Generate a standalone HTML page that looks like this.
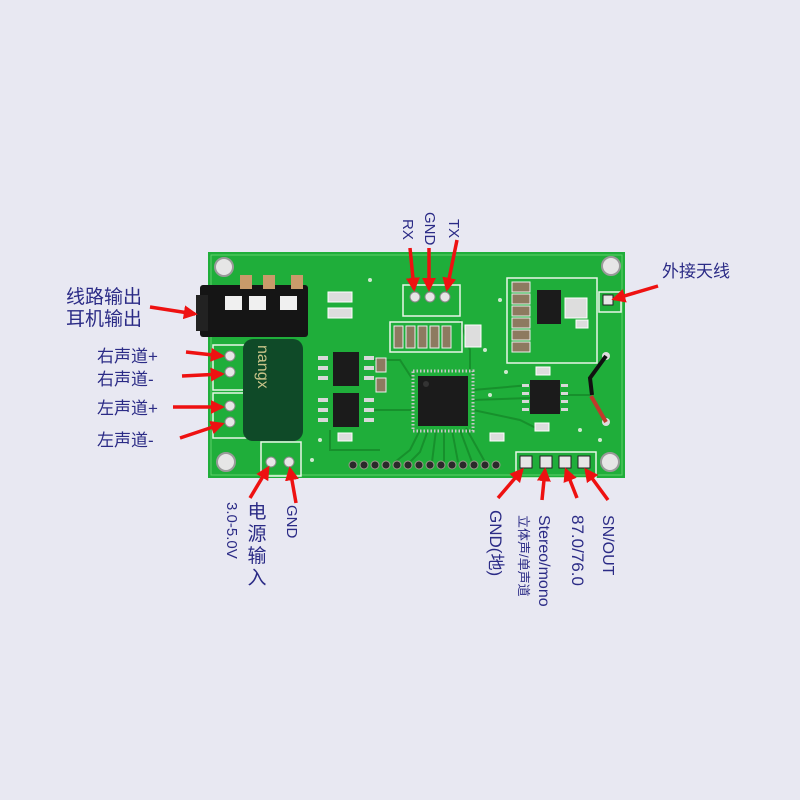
<!DOCTYPE html>
<html><head><meta charset="utf-8"><style>
html,body{margin:0;padding:0;background:#e8e8f2;}
svg{display:block}
text{font-family:"Liberation Sans","Noto Sans CJK SC",sans-serif;fill:#2b2b86;}
</style></head><body>
<svg width="800" height="800" viewBox="0 0 800 800" xmlns="http://www.w3.org/2000/svg">
<defs>
<marker id="ah" markerWidth="4" markerHeight="4" refX="3.2" refY="2" orient="auto" markerUnits="strokeWidth">
<path d="M0,0 L4,2 L0,4 z" fill="#ee1111"/></marker>
</defs>
<rect width="800" height="800" fill="#e8e8f2"/>
<!-- board -->
<rect x="208" y="252" width="417" height="226" fill="#1fae3a"/>
<rect x="211" y="255" width="411" height="220" fill="none" stroke="#5fd06a" stroke-width="1"/>
<!-- traces -->
<g stroke="#17902c" stroke-width="2" fill="none">
<path d="M420 430 L410 450 L395 462"/><path d="M428 430 L420 452 L410 462"/><path d="M436 430 L432 462"/><path d="M444 430 L444 462"/>
<path d="M452 430 L458 462"/><path d="M460 430 L472 462"/><path d="M466 428 L485 462"/>
<path d="M473 390 L530 385"/><path d="M473 400 L530 398"/><path d="M473 410 L520 420 L540 430"/>
<path d="M374 360 L400 360 L413 380"/><path d="M374 410 L413 410"/><path d="M460 320 L470 350 L470 371"/>
<path d="M560 395 L590 395"/><path d="M330 430 L330 450 L380 450"/>
</g>
<!-- holes -->
<g fill="#e6e6e6" stroke="#9a9a9a" stroke-width="2">
<circle cx="224" cy="267" r="9"/><circle cx="611" cy="266" r="9"/>
<circle cx="226" cy="462" r="9"/><circle cx="610" cy="462" r="9"/></g>
<!-- silkscreen boxes -->
<g fill="none" stroke="#e8f5e8" stroke-width="1.5">
<rect x="403" y="285" width="57" height="31"/>
<rect x="507" y="278" width="90" height="85"/>
<rect x="213" y="345" width="40" height="45"/>
<rect x="213" y="393" width="40" height="45"/>
<rect x="261" y="442" width="40" height="34"/>
<rect x="516" y="452" width="80" height="26"/>
<rect x="599" y="292" width="22" height="20"/>
<rect x="390" y="322" width="72" height="30"/>
</g>
<!-- jack -->
<rect x="200" y="285" width="108" height="52" fill="#151515" rx="3"/>
<rect x="196" y="295" width="12" height="36" fill="#222"/>
<g fill="#c99a6a"><rect x="240" y="275" width="12" height="14"/><rect x="263" y="275" width="12" height="14"/><rect x="291" y="275" width="12" height="14"/></g>
<g fill="#f0f0f0"><rect x="225" y="296" width="17" height="14"/><rect x="249" y="296" width="17" height="14"/><rect x="280" y="296" width="17" height="14"/></g>
<!-- capacitor -->
<rect x="243" y="339" width="60" height="102" rx="10" fill="#0f4a28"/>
<text x="0" y="0" transform="translate(258,345) rotate(90)" font-size="16" style="fill:#c9c48a">nangx</text>
<!-- pins -->
<g fill="#e6e6e6" stroke="#888"><circle cx="230" cy="356" r="5"/><circle cx="230" cy="372" r="5"/><circle cx="230" cy="406" r="5"/><circle cx="230" cy="422" r="5"/>
<circle cx="271" cy="462" r="5"/><circle cx="289" cy="462" r="5"/>
<circle cx="415" cy="297" r="5"/><circle cx="430" cy="297" r="5"/><circle cx="445" cy="297" r="5"/></g>
<g fill="#e6e6e6" stroke="#222"><rect x="520" y="456" width="12" height="12"/><rect x="540" y="456" width="12" height="12"/><rect x="559" y="456" width="12" height="12"/><rect x="578" y="456" width="12" height="12"/><rect x="603" y="295" width="10" height="10"/></g>
<!-- pad row -->
<g fill="#2a2a2a" stroke="#9a9a8a" stroke-width="1">
<circle cx="353" cy="465" r="4"/><circle cx="364" cy="465" r="4"/><circle cx="375" cy="465" r="4"/><circle cx="386" cy="465" r="4"/><circle cx="397" cy="465" r="4"/><circle cx="408" cy="465" r="4"/><circle cx="419" cy="465" r="4"/><circle cx="430" cy="465" r="4"/><circle cx="441" cy="465" r="4"/><circle cx="452" cy="465" r="4"/><circle cx="463" cy="465" r="4"/><circle cx="474" cy="465" r="4"/><circle cx="485" cy="465" r="4"/><circle cx="496" cy="465" r="4"/></g>
<!-- chips -->
<g fill="#1b1b1b">
<rect x="333" y="352" width="26" height="34"/><rect x="333" y="393" width="26" height="34"/>
<rect x="418" y="376" width="50" height="50"/>
<rect x="537" y="290" width="24" height="34"/>
<rect x="530" y="380" width="30" height="34"/>
</g>
<circle cx="426" cy="384" r="3" fill="#333"/>
<g fill="#d8d8d8"><rect x="318" y="356" width="10" height="4"/><rect x="318" y="366" width="10" height="4"/><rect x="318" y="376" width="10" height="4"/><rect x="364" y="356" width="10" height="4"/><rect x="364" y="366" width="10" height="4"/><rect x="364" y="376" width="10" height="4"/>
<rect x="318" y="398" width="10" height="4"/><rect x="318" y="408" width="10" height="4"/><rect x="318" y="418" width="10" height="4"/><rect x="364" y="398" width="10" height="4"/><rect x="364" y="408" width="10" height="4"/><rect x="364" y="418" width="10" height="4"/>
<rect x="522" y="384" width="7" height="3"/><rect x="522" y="392" width="7" height="3"/><rect x="522" y="400" width="7" height="3"/><rect x="522" y="408" width="7" height="3"/>
<rect x="561" y="384" width="7" height="3"/><rect x="561" y="392" width="7" height="3"/><rect x="561" y="400" width="7" height="3"/><rect x="561" y="408" width="7" height="3"/></g>
<g fill="none" stroke="#c8c8c8" stroke-width="3" stroke-dasharray="1.5 2"><rect x="413" y="371" width="60" height="60"/></g>
<!-- small smd -->
<g fill="#ddd" stroke="#fff"><rect x="328" y="292" width="24" height="10"/><rect x="328" y="308" width="24" height="10"/>
<rect x="465" y="325" width="16" height="22"/>
<rect x="565" y="298" width="22" height="20"/>
<rect x="338" y="433" width="14" height="8"/><rect x="535" y="423" width="14" height="8"/><rect x="490" y="433" width="14" height="8"/><rect x="536" y="367" width="14" height="8"/><rect x="576" y="320" width="12" height="8"/></g>
<g fill="#8d7a60" stroke="#eee"><rect x="394" y="326" width="9" height="22"/><rect x="406" y="326" width="9" height="22"/><rect x="418" y="326" width="9" height="22"/><rect x="430" y="326" width="9" height="22"/><rect x="442" y="326" width="9" height="22"/>
<rect x="512" y="282" width="18" height="10"/><rect x="512" y="294" width="18" height="10"/><rect x="512" y="306" width="18" height="10"/><rect x="512" y="318" width="18" height="10"/><rect x="512" y="330" width="18" height="10"/><rect x="512" y="342" width="18" height="10"/>
<rect x="376" y="358" width="10" height="14"/><rect x="376" y="378" width="10" height="14"/></g>
<!-- vias -->
<g fill="#cfe8cf"><circle cx="500" cy="300" r="2"/><circle cx="485" cy="350" r="2"/><circle cx="600" cy="440" r="2"/><circle cx="580" cy="430" r="2"/><circle cx="320" cy="440" r="2"/><circle cx="490" cy="395" r="2"/><circle cx="370" cy="280" r="2"/><circle cx="506" cy="372" r="2"/><circle cx="312" cy="460" r="2"/></g>
<!-- wires -->
<circle cx="606" cy="356" r="4" fill="#ddd"/><circle cx="606" cy="422" r="4" fill="#ddd"/>
<path d="M606 356 L590 378 L592 395" stroke="#111" stroke-width="4" fill="none"/>
<path d="M591 396 L606 422" stroke="#c0392b" stroke-width="4" fill="none"/>
<!-- arrows -->
<g stroke="#ee1111" stroke-width="3.5" fill="none" marker-end="url(#ah)">
<line x1="150" y1="307" x2="195" y2="314"/>
<line x1="186" y1="352" x2="222" y2="356"/>
<line x1="182" y1="376" x2="222" y2="374"/>
<line x1="173" y1="407" x2="222" y2="407"/>
<line x1="180" y1="438" x2="222" y2="424"/>
<line x1="250" y1="498" x2="268" y2="468"/>
<line x1="296" y1="503" x2="290" y2="469"/>
<line x1="410" y1="248" x2="414" y2="289"/>
<line x1="429" y1="248" x2="429" y2="289"/>
<line x1="457" y1="240" x2="447" y2="289"/>
<line x1="658" y1="286" x2="614" y2="299"/>
<line x1="498" y1="498" x2="522" y2="470"/>
<line x1="542" y1="500" x2="545" y2="470"/>
<line x1="577" y1="498" x2="566" y2="470"/>
<line x1="608" y1="500" x2="586" y2="470"/>
</g>
<!-- labels -->
<text x="66" y="303" font-size="19">线路输出</text>
<text x="66" y="325" font-size="19">耳机输出</text>
<text x="97" y="362" font-size="17">右声道+</text>
<text x="97" y="385" font-size="17">右声道-</text>
<text x="97" y="414" font-size="17">左声道+</text>
<text x="97" y="446" font-size="17">左声道-</text>
<text x="662" y="277" font-size="17">外接天线</text>
<g font-size="15">
<text transform="translate(403,219) rotate(90)">RX</text>
<text transform="translate(425,212) rotate(90)">GND</text>
<text transform="translate(449,219) rotate(90)">TX</text>
<text transform="translate(287,505) rotate(90)">GND</text>
<text transform="translate(227,502) rotate(90)">3.0-5.0V</text>
<text transform="translate(490,510) rotate(90)" font-size="17">GND(地)</text>
<text transform="translate(519,515) rotate(90)" font-size="13">立体声/单声道</text>
<text transform="translate(539,515) rotate(90)" font-size="16">Stereo/mono</text>
<text transform="translate(572,515) rotate(90)" font-size="17">87.0/76.0</text>
<text transform="translate(603,515) rotate(90)" font-size="16">SN/OUT</text>
</g>
<g font-size="19" text-anchor="middle">
<text x="257" y="518">电</text><text x="257" y="540">源</text><text x="257" y="562">输</text><text x="257" y="584">入</text>
</g>
</svg>
</body></html>
